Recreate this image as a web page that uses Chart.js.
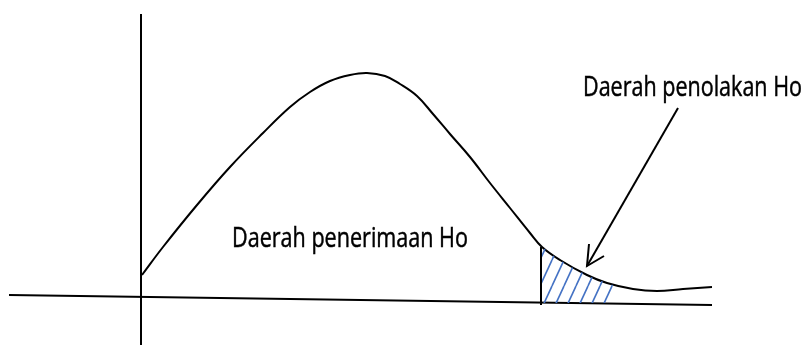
<!DOCTYPE html>
<html>
<head>
<meta charset="utf-8">
<script src="https://cdn.jsdelivr.net/npm/chart.js@4"></script>
<style>
  html, body { margin: 0; padding: 0; background: #fff; }
  #wrap { width: 806px; height: 345px; }
</style>
</head>
<body>
<div id="wrap"><canvas id="chartUji"></canvas></div>
<script>
// curve (x = distance from the vertical axis, y = height above the base line)
const curveX = [1, 22, 56, 89, 122, 149, 169, 189, 209, 226, 244, 259, 276, 292, 309, 329, 349, 369, 389, 401, 419, 446, 466, 492, 516, 542, 571];
const curveY = [28, 56, 98, 136, 170, 196, 211, 222, 228, 230, 227, 219, 207, 189, 169, 146, 120, 95, 70, 56, 43, 28, 20, 14, 12, 14, 16];

// rejection region (hatched tail)
const tailX = [401, 419, 446, 466, 472];
const tailY = [56, 43, 28, 20, 18];

// critical value line
const critX = [400, 400];
const critY = [-2, 56];

// axes
const yAxisX = [0, 0];
const yAxisY = [289, -42];
const xAxisX = [-132, 571];
const xAxisY = [8, -2];

// arrow pointing at the tail
const arrowX = [537, 446];
const arrowY = [195, 37];
const headX = [448, 446, 463];
const headY = [59, 37, 47];

// labels
const labelText = ['Daerah penerimaan Ho', 'Daerah penolakan Ho'];
const labelX = [91, 442];
const labelY = [56, 207];

const pts = (xs, ys) => xs.map((x, i) => ({ x, y: ys[i] }));

// diagonal hatch pattern
const tile = document.createElement('canvas');
tile.width = 12;
tile.height = 26;
const tctx = tile.getContext('2d');
tctx.strokeStyle = '#4472c4';
tctx.lineWidth = 1.6;
[-12, 0, 12].forEach(dx => {
  tctx.beginPath();
  tctx.moveTo(dx, 26);
  tctx.lineTo(dx + 12, 0);
  tctx.stroke();
});
const hatch = tctx.createPattern(tile, 'repeat');

const labelPlugin = {
  id: 'labels',
  afterDatasetsDraw(chart) {
    const { ctx, scales } = chart;
    const widths = [236, 219];
    ctx.save();
    ctx.fillStyle = '#000';
    ctx.strokeStyle = '#000';
    ctx.lineWidth = 0.5;
    ctx.font = '28px "Open Sans"';
    ctx.textBaseline = 'alphabetic';
    labelText.forEach((t, i) => {
      const x = scales.x.getPixelForValue(labelX[i]);
      const y = scales.y.getPixelForValue(labelY[i]);
      ctx.fillText(t, x, y, widths[i]);
      ctx.strokeText(t, x, y, widths[i]);
    });
    ctx.restore();
  }
};

const line = (data, extra) => Object.assign({
  data,
  borderColor: '#000',
  borderWidth: 2,
  pointRadius: 0,
  fill: false
}, extra || {});

new Chart(document.getElementById('chartUji').getContext('2d'), {
  type: 'line',
  data: {
    datasets: [
      line(pts(tailX, tailY), { borderWidth: 0, borderColor: 'rgba(0,0,0,0)', backgroundColor: hatch, fill: 'origin', tension: 0.4 }),
      line(pts(xAxisX, xAxisY)),
      line(pts(yAxisX, yAxisY)),
      line(pts(critX, critY)),
      line(pts(curveX, curveY), { tension: 0.4 }),
      line(pts(arrowX, arrowY)),
      line(pts(headX, headY), { borderJoinStyle: 'miter' })
    ]
  },
  options: {
    responsive: true,
    maintainAspectRatio: false,
    animation: false,
    layout: { padding: 0 },
    scales: {
      x: { type: 'linear', min: -141, max: 665, display: false },
      y: { type: 'linear', min: -42, max: 303, display: false }
    },
    plugins: {
      legend: { display: false },
      tooltip: { enabled: false }
    }
  },
  plugins: [labelPlugin]
});
</script>
</body>
</html>
